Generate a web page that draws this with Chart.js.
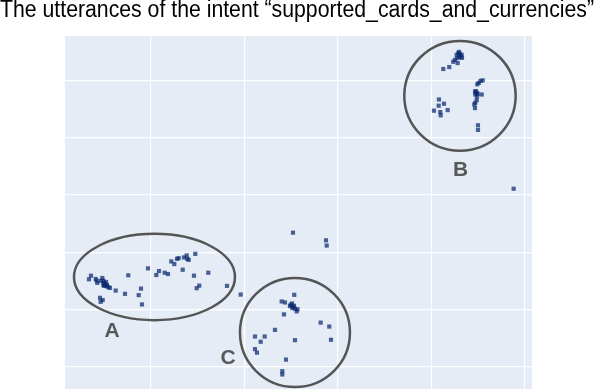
<!DOCTYPE html>
<html>
<head>
<meta charset="utf-8">
<script src="https://cdn.jsdelivr.net/npm/chart.js@4"></script>
<style>
  html, body { margin: 0; padding: 0; background: #ffffff; }
  #wrap { width: 594px; height: 392px; }
</style>
</head>
<body>
<div id="wrap"><canvas id="c" width="594" height="392"></canvas></div>
<script>
// ---- data (embedding coordinates) ----
const titleText = "The utterances of the intent \u201csupported_cards_and_currencies\u201d";

const xTicks = [-40, -20, 0, 20, 40];
const yTicks = [-40, -20, 0, 20, 40, 60];

const clusterA = [
  [-53.19,-9.43],[-52.76,-8.18],[-51.75,-9.32],[-51.54,-9.91],[-51.41,-10.71],
  [-50.34,-8.98],[-50.13,-9.91],[-49.92,-10.71],[-49.77,-11.30],[-49.40,-11.85],
  [-49.06,-12.20],[-48.70,-12.44],[-50.13,-11.30],[-50.62,-10.02],[-49.55,-10.36],
  [-49.34,-11.40],[-49.98,-11.75],[-47.48,-13.38],[-50.83,-15.91],[-50.26,-16.71],
  [-50.69,-17.30],[-44.79,-8.04],[-45.49,-14.52],[-42.56,-14.97],[-42.07,-12.69],
  [-41.86,-18.23],[-40.58,-5.62],[-38.80,-7.94],[-38.23,-6.55],[-37.01,-7.14],
  [-36.30,-7.59],[-35.60,-3.19],[-34.96,-4.12],[-34.38,-2.29],[-34.02,-2.05],
  [-33.16,-6.10],[-32.89,-1.80],[-32.31,-1.11],[-31.88,-2.63],[-32.18,-2.29],
  [-30.47,-0.55],[-30.75,-8.18],[-27.69,-7.14],[-29.62,-11.65],[-30.17,-12.55],
  [-23.70,-11.75],[-20.77,-14.77]
];

const clusterB = [
  [25.38,69.01],[25.73,69.60],[26.09,69.36],[26.45,69.01],[25.94,68.42],
  [26.24,68.21],[25.51,67.87],[25.02,67.28],[24.66,66.59],[25.60,66.14],
  [25.88,70.05],[26.52,67.97],[22.52,64.06],[23.80,64.75],
  [30.09,59.20],[30.51,59.90],[30.94,60.10],[29.79,58.72],
  [29.51,56.29],[29.66,55.74],[29.87,55.39],[29.36,55.15],[29.30,56.19],[29.72,54.45],
  [30.73,55.15],[29.66,53.17],[29.36,52.27],[29.15,51.68],[29.30,50.40],
  [29.94,44.40],[29.94,42.77],
  [21.60,53.41],[22.67,51.92],[21.54,51.23],[20.53,49.50],[21.88,49.01],
  [21.97,47.87],[23.46,49.70]
];

const clusterC = [
  [-9.32,-14.87],[-12.01,-17.19],[-11.30,-17.54],[-10.09,-18.34],[-9.81,-17.89],
  [-9.53,-19.03],[-9.17,-19.72],[-8.80,-20.66],[-10.24,-18.79],[-9.74,-19.48],
  [-9.38,-18.68],[-8.63,-19.90],[-11.52,-21.70],[-13.44,-27.11],[-3.68,-24.58],
  [-1.84,-25.96],[-17.71,-29.43],[-15.64,-29.43],[-16.50,-31.27],[-9.17,-30.71],
  [-1.47,-30.57],[-17.71,-33.83],[-17.29,-35.08],[-11.09,-37.50],[-11.88,-41.56],
  [-11.88,-42.70]
];

const otherPoints = [
  [-9.59,6.86],[-2.54,4.19],[-2.39,2.36],[37.56,22.22]
];

// annotation ellipses: [centerX, centerY, radiusX, radiusY] in data units
const ellipseNames = ["A", "B", "C"];
const ellipses = [
  [-39.19, -8.63, 17.20, 15.08],
  [26.09, 54.70, 11.90, 19.17],
  [-9.17, -28.04, 11.75, 19.06]
];
const labelPositions = [
  [-48.27, -27.35],
  [26.24, 29.15],
  [-23.48, -36.71]
];

// ---- chart ----
const allPoints = clusterA.concat(clusterB, clusterC, otherPoints).map(p => ({x: p[0], y: p[1]}));

const bgPlugin = {
  id: 'plotBg',
  beforeDraw(chart) {
    const {ctx, chartArea: a} = chart;
    ctx.save();
    ctx.fillStyle = '#E5ECF6';
    ctx.fillRect(a.left, a.top, a.right - a.left, a.bottom - a.top);
    ctx.restore();
  }
};

const shapePlugin = {
  id: 'shapes',
  afterDatasetsDraw(chart) {
    const ctx = chart.ctx;
    const xs = chart.scales.x, ys = chart.scales.y;
    ctx.save();
    ctx.strokeStyle = '#555555';
    ctx.lineWidth = 2.5;
    ellipses.forEach(e => {
      const cx = xs.getPixelForValue(e[0]);
      const cy = ys.getPixelForValue(e[1]);
      const rx = Math.abs(xs.getPixelForValue(e[0] + e[2]) - cx);
      const ry = Math.abs(ys.getPixelForValue(e[1] + e[3]) - cy);
      ctx.beginPath();
      ctx.ellipse(cx, cy, rx, ry, 0, 0, Math.PI * 2);
      ctx.stroke();
    });
    ctx.fillStyle = '#595959';
    ctx.font = 'bold 21px "Liberation Sans", Arial, sans-serif';
    ctx.textAlign = 'center';
    ctx.textBaseline = 'middle';
    ellipseNames.forEach((n, i) => {
      const p = labelPositions[i];
      ctx.fillText(n, xs.getPixelForValue(p[0]), ys.getPixelForValue(p[1]) + 1);
    });
    ctx.restore();
  }
};

const fixTicks = (vals) => (scale) => { scale.ticks = vals.map(v => ({value: v})); };

new Chart(document.getElementById('c'), {
  type: 'scatter',
  data: {
    datasets: [{
      data: allPoints,
      pointStyle: 'rect',
      pointRadius: 2.95,
      pointHoverRadius: 2.95,
      backgroundColor: 'rgba(10,40,110,0.72)',
      borderWidth: 0
    }]
  },
  options: {
    responsive: false,
    animation: false,
    devicePixelRatio: 1,
    layout: { padding: 0 },
    plugins: {
      legend: { display: false },
      tooltip: { enabled: false },
      title: {
        display: true,
        text: titleText,
        color: '#000000',
        font: { family: '"Liberation Sans", Arial, sans-serif', size: 23.3, weight: 'normal', lineHeight: 0.94 },
        padding: { top: 0, bottom: 14.1 }
      }
    },
    scales: {
      x: {
        type: 'linear',
        min: -58.31, max: 41.48,
        afterBuildTicks: fixTicks(xTicks),
        afterFit: (s) => { s.height = 0; },
        ticks: { display: false },
        border: { display: false },
        grid: { color: '#ffffff', lineWidth: 1.2, drawTicks: false }
      },
      y: {
        type: 'linear',
        position: 'left',
        min: -47.8, max: 75.6,
        afterBuildTicks: fixTicks(yTicks),
        afterFit: (s) => { s.width = 65; },
        ticks: { display: false },
        border: { display: false },
        grid: { color: '#ffffff', lineWidth: 1.2, drawTicks: false }
      },
      yRight: {
        type: 'linear',
        position: 'right',
        min: 0, max: 1,
        afterFit: (s) => { s.width = 62; },
        ticks: { display: false },
        border: { display: false },
        grid: { display: false, drawTicks: false }
      }
    }
  },
  plugins: [bgPlugin, shapePlugin]
});
</script>
</body>
</html>
